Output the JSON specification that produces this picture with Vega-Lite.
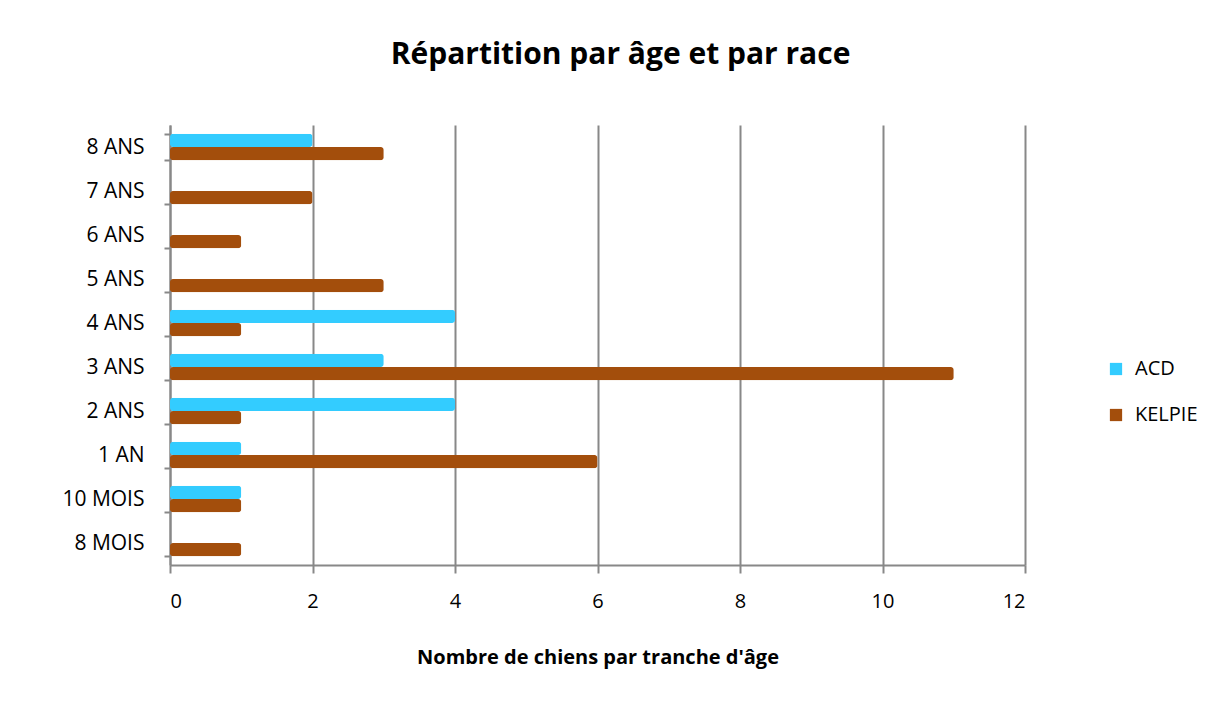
{
  "$schema": "https://vega.github.io/schema/vega-lite/v6.json",
  "width": 855,
  "height": 440,
  "autosize": {"type": "none"},
  "padding": {"left": 170, "top": 125, "right": 192, "bottom": 139},
  "background": "white",
  "title": {
    "text": "Répartition par âge et par race",
    "font": "Open Sans",
    "fontSize": 30,
    "fontWeight": "bold",
    "color": "#000000",
    "anchor": "middle",
    "dx": 23,
    "offset": 44
  },
  "data": {
    "values": [
      {"age": "8 ANS", "race": "ACD", "n": 2},
      {"age": "8 ANS", "race": "KELPIE", "n": 3},
      {"age": "7 ANS", "race": "ACD", "n": 0},
      {"age": "7 ANS", "race": "KELPIE", "n": 2},
      {"age": "6 ANS", "race": "ACD", "n": 0},
      {"age": "6 ANS", "race": "KELPIE", "n": 1},
      {"age": "5 ANS", "race": "ACD", "n": 0},
      {"age": "5 ANS", "race": "KELPIE", "n": 3},
      {"age": "4 ANS", "race": "ACD", "n": 4},
      {"age": "4 ANS", "race": "KELPIE", "n": 1},
      {"age": "3 ANS", "race": "ACD", "n": 3},
      {"age": "3 ANS", "race": "KELPIE", "n": 11},
      {"age": "2 ANS", "race": "ACD", "n": 4},
      {"age": "2 ANS", "race": "KELPIE", "n": 1},
      {"age": "1 AN", "race": "ACD", "n": 1},
      {"age": "1 AN", "race": "KELPIE", "n": 6},
      {"age": "10 MOIS", "race": "ACD", "n": 1},
      {"age": "10 MOIS", "race": "KELPIE", "n": 1},
      {"age": "8 MOIS", "race": "ACD", "n": 0},
      {"age": "8 MOIS", "race": "KELPIE", "n": 1}
    ]
  },
  "mark": {"type": "bar", "cornerRadius": 3, "stroke": null},
  "encoding": {
    "y": {
      "field": "age",
      "type": "nominal",
      "sort": ["8 ANS", "7 ANS", "6 ANS", "5 ANS", "4 ANS", "3 ANS", "2 ANS", "1 AN", "10 MOIS", "8 MOIS"],
      "scale": {"paddingInner": 0.4, "paddingOuter": 0.2},
      "axis": {
        "title": null,
        "tickBand": "extent",
        "ticks": true,
        "tickSize": 6,
        "tickColor": "#888888",
        "tickWidth": 2,
        "domainColor": "#888888",
        "domainWidth": 2,
        "labelFont": "Open Sans",
        "labelFontSize": 21,
        "labelColor": "#000000",
        "labelPadding": 20,
        "grid": false
      }
    },
    "yOffset": {"field": "race", "type": "nominal", "sort": ["ACD", "KELPIE"]},
    "x": {
      "field": "n",
      "type": "quantitative",
      "scale": {"domain": [0, 12]},
      "axis": {
        "title": "Nombre de chiens par tranche d'âge",
        "titleFont": "Open Sans",
        "titleFontSize": 20,
        "titleFontWeight": "bold",
        "titleColor": "#000000",
        "titlePadding": 36,
        "values": [0, 2, 4, 6, 8, 10, 12],
        "grid": true,
        "gridColor": "#888888",
        "gridWidth": 2,
        "domainColor": "#888888",
        "domainWidth": 2,
        "tickColor": "#888888",
        "tickWidth": 2,
        "tickSize": 8,
        "labelFont": "Open Sans",
        "labelFontSize": 20,
        "labelColor": "#000000",
        "labelPadding": 18
      }
    },
    "color": {
      "field": "race",
      "type": "nominal",
      "scale": {"domain": ["ACD", "KELPIE"], "range": ["#33CCFF", "#A34E0C"]},
      "legend": {
        "title": null,
        "orient": "none",
        "legendX": 936,
        "legendY": 234,
        "symbolType": "square",
        "symbolSize": 150,
        "symbolStrokeWidth": 0,
        "labelFont": "Open Sans",
        "labelFontSize": 20,
        "labelColor": "#000000",
        "rowPadding": 26,
        "labelOffset": 9
      }
    }
  },
  "config": {
    "view": {"stroke": null}
  }
}
